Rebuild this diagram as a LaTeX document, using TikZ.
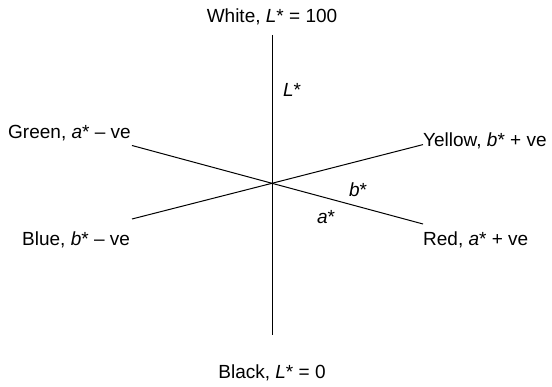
\documentclass[tikz,border=0pt]{standalone}
\usepackage{fontspec}
\setmainfont{Liberation Sans}
\usetikzlibrary{positioning}

\begin{document}
\begin{tikzpicture}[x=1pt, y=1pt,
    axis/.style={line width=1pt},
    lbl/.style={font=\fontsize{19}{22}\selectfont, inner sep=0pt}]
  \useasboundingbox (0,0) rectangle (552,387);
  % axis end points, all three lines cross at o
  \coordinate (o) at (272,203.7);
  \coordinate (white) at (272,352);
  \coordinate (black) at (272,52);
  \coordinate (green) at (132,241.5);
  \coordinate (red) at (423,163);
  \coordinate (blue) at (132,168);
  \coordinate (yellow) at (423,242.4);

  \draw[axis] (white) -- (black);
  \draw[axis] (green) -- (o) -- (red);
  \draw[axis] (blue) -- (o) -- (yellow);

  \node[lbl] (wl) at (272,370) {White, \textit{L}* = 100};
  \node[lbl] (kl) at (272,14) {Black, \textit{L}* = 0};
  \node[lbl, anchor=west] (gl) at (8,254) {Green, \textit{a}* – ve};
  \node[lbl, anchor=west] (bl) at (22,147) {Blue, \textit{b}* – ve};
  \node[lbl, anchor=west] (yl) at (423,246) {Yellow, \textit{b}* + ve};
  \node[lbl, anchor=west] (rl) at (423,147) {Red, \textit{a}* + ve};
  \node[lbl] (ll) at (292,297) {\textit{L}*};
  \node[lbl] (bs) at (358,197) {\textit{b}*};
  \node[lbl] (as) at (326,170) {\textit{a}*};
\end{tikzpicture}
\end{document}
